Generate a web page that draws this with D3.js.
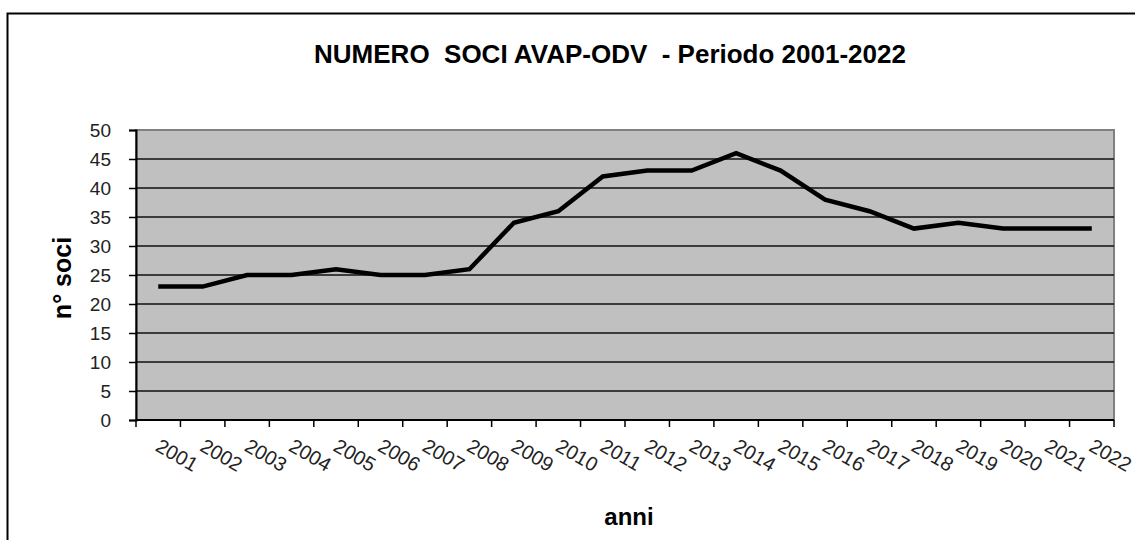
<!DOCTYPE html>
<html>
<head>
<meta charset="utf-8">
<script src="https://cdn.jsdelivr.net/npm/d3@7"></script>
<style>
  body { margin: 0; background: #fff; }
  svg { display: block; font-family: "Liberation Sans", Arial, Helvetica, sans-serif; }
</style>
</head>
<body>
<div id="chart"></div>
<script>
// data
const anni = ["2001","2002","2003","2004","2005","2006","2007","2008","2009","2010","2011",
              "2012","2013","2014","2015","2016","2017","2018","2019","2020","2021","2022"];
const soci = [23, 23, 25, 25, 26, 25, 25, 26, 34, 36, 42, 43, 43, 46, 43, 38, 36, 33, 34, 33, 33, 33];
const yTicks = [0, 5, 10, 15, 20, 25, 30, 35, 40, 45, 50];

const width = 1135, height = 540;
const margins = {top: 130, right: 21, bottom: 120, left: 136};

const svg = d3.select("#chart")
  .append("svg")
    .attr("width", width)
    .attr("height", height);

// outer frame (runs off the right/bottom edge like the original)
svg.append("rect")
  .attr("x", 7.5).attr("y", 13.5)
  .attr("width", 1200).attr("height", 600)
  .attr("fill", "none")
  .attr("stroke", "#000")
  .attr("stroke-width", 2);

const x = d3.scaleBand()
  .domain(anni)
  .range([margins.left, width - margins.right]);

const y = d3.scaleLinear()
  .domain([0, 50])
  .range([height - margins.bottom, margins.top]);

// plot area
svg.append("rect")
  .attr("x", x.range()[0]).attr("y", y(50))
  .attr("width", x.range()[1] - x.range()[0])
  .attr("height", y(0) - y(50))
  .attr("fill", "#c0c0c0")
  .attr("stroke", "#808080")
  .attr("stroke-width", 2);

// horizontal gridlines
svg.append("g")
  .selectAll("line")
  .data(yTicks.filter(d => d > 0 && d < 50))
  .join("line")
    .attr("x1", x.range()[0]).attr("x2", x.range()[1])
    .attr("y1", d => y(d)).attr("y2", d => y(d))
    .attr("stroke", "#111")
    .attr("stroke-width", 1.5);

// Y axis
svg.append("g")
  .attr("transform", `translate(${margins.left},0)`)
  .call(d3.axisLeft(y).tickValues(yTicks).tickSize(7).tickPadding(18))
  .call(g => g.select(".domain").attr("stroke", "#000").attr("stroke-width", 2))
  .call(g => g.selectAll(".tick line").attr("stroke", "#000").attr("stroke-width", 1.5))
  .call(g => g.selectAll(".tick text")
      .attr("fill", "#222")
      .style("font-size", "19px")
      .style("font-family", "inherit"));

// X axis: ticks sit on category boundaries, labels rotated
const xAxis = svg.append("g")
  .attr("transform", `translate(0,${y(0)})`);

xAxis.append("line")
  .attr("x1", x.range()[0]).attr("x2", x.range()[1])
  .attr("stroke", "#000").attr("stroke-width", 2);

xAxis.selectAll("line.tick")
  .data(anni.concat(["end"]))
  .join("line")
    .attr("class", "tick")
    .attr("x1", (d, i) => x.range()[0] + i * x.step())
    .attr("x2", (d, i) => x.range()[0] + i * x.step())
    .attr("y1", 0).attr("y2", 7)
    .attr("stroke", "#000").attr("stroke-width", 1.5);

xAxis.selectAll("text")
  .data(anni)
  .join("text")
    .attr("transform", d => `translate(${x(d) + x.bandwidth() / 2 - 4},30) rotate(30)`)
    .attr("fill", "#222")
    .style("font-size", "20px")
    .text(d => d);

// the line
const line = d3.line()
  .x((d, i) => x(anni[i]) + x.bandwidth() / 2)
  .y(d => y(d));

svg.append("path")
  .datum(soci)
  .attr("d", line)
  .attr("fill", "none")
  .attr("stroke", "#000")
  .attr("stroke-width", 4.5)
  .attr("stroke-linejoin", "miter");

// titles
svg.append("text")
  .attr("x", 610).attr("y", 63)
  .attr("text-anchor", "middle")
  .style("font-size", "26px")
  .style("font-weight", "bold")
  .attr("xml:space", "preserve")
  .text("NUMERO  SOCI AVAP-ODV  - Periodo 2001-2022");

svg.append("text")
  .attr("transform", `translate(71,${(y(0) + y(50)) / 2 + 3}) rotate(-90)`)
  .attr("text-anchor", "middle")
  .style("font-size", "25px")
  .style("font-weight", "bold")
  .text("n° soci");

svg.append("text")
  .attr("x", (x.range()[0] + x.range()[1]) / 2 + 4)
  .attr("y", 525)
  .attr("text-anchor", "middle")
  .style("font-size", "24px")
  .style("font-weight", "bold")
  .text("anni");
</script>
</body>
</html>
